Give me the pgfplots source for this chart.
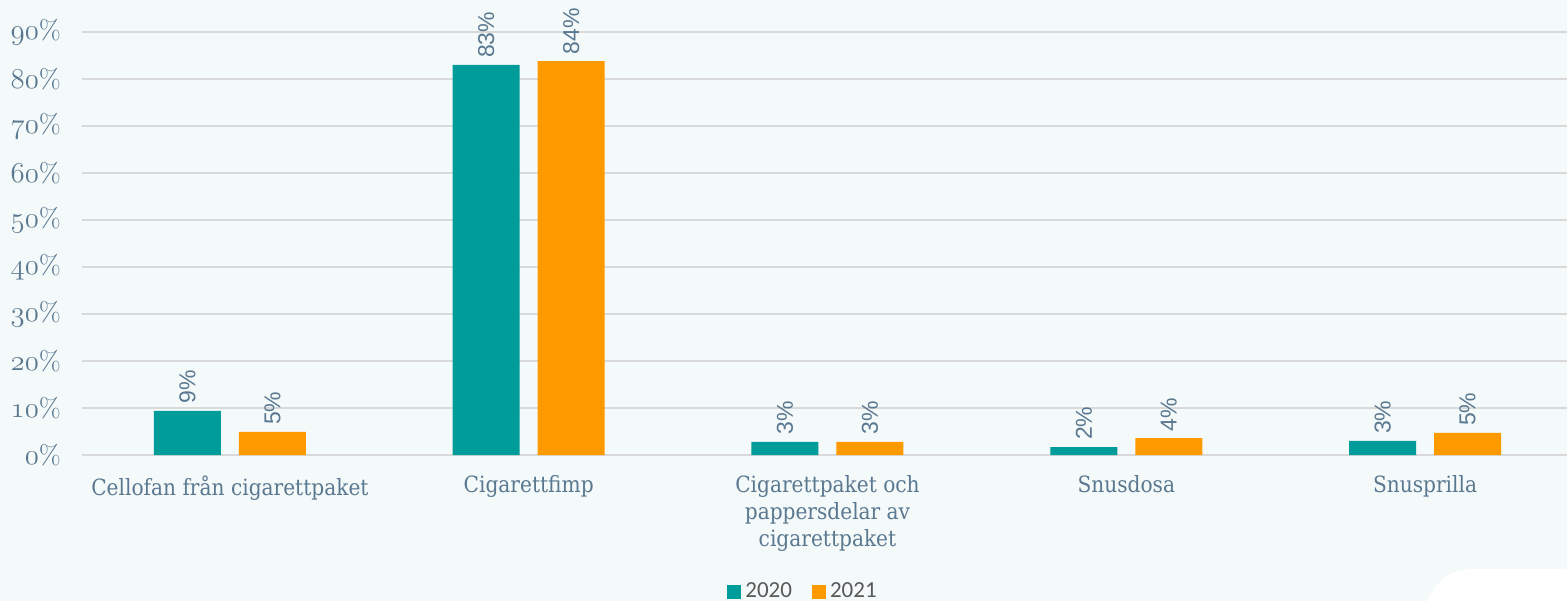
\documentclass[border=0pt]{standalone}
\usepackage{fontspec}
\usepackage{pgfplots}
\pgfplotsset{compat=1.18}

\newfontfamily\catfont{DejaVu Serif Condensed}
\newfontfamily\lblfont{Liberation Sans}
\newfontfamily\legfont{Carlito}

\definecolor{bg}{HTML}{F4F9FA}
\definecolor{teal20}{HTML}{009C99}
\definecolor{orange21}{HTML}{FF9900}
\definecolor{txt}{HTML}{5A7890}
\definecolor{gridc}{HTML}{D9D9D9}
\definecolor{legtxt}{HTML}{595959}

% old-style figures for the y ticks
\newcommand{\osn}[1]{$\mathnormal{#1}$}

\begin{document}
\begin{tikzpicture}
\fill[bg] (-41pt,-73pt) rectangle (742.5pt,227.5pt);
\useasboundingbox (-41pt,-73pt) rectangle (742.5pt,227.5pt);
\fill[white] (670pt,-80pt) -- (672.5pt,-73pt) .. controls (678pt,-62pt) and (684pt,-57pt) .. (696pt,-57pt)
  -- (760pt,-57pt) -- (760pt,-80pt) -- cycle;

\begin{axis}[
    scale only axis,
    width=742.5pt, height=211.5pt,
    ymin=0, ymax=90,
    xmin=-0.495, xmax=4.475,
    ybar=9pt, bar width=33.5pt,
    clip=false,
    axis line style={draw=none},
    tick style={draw=none},
    ymajorgrids=true,
    grid style={gridc, line width=1pt},
    ytick={0,10,...,90},
    yticklabels={\osn{0}\%,\osn{10}\%,\osn{20}\%,\osn{30}\%,\osn{40}\%,\osn{50}\%,\osn{60}\%,\osn{70}\%,\osn{80}\%,\osn{90}\%},
    yticklabel style={font=\fontsize{13.5}{16}\selectfont, text=txt, anchor=east, xshift=-7pt},
    xtick={0,1,2,3,4},
    xticklabels={Cellofan från cigarettpaket, Cigarettfimp, {Cigarettpaket och\\pappersdelar av\\cigarettpaket}, Snusdosa, Snusprilla},
    xticklabel style={font=\catfont\fontsize{11.2}{13.5}\selectfont, text=txt, align=center, anchor=north, yshift=-2.5pt},
    nodes near coords={\pgfmathprintnumber[assume math mode=true,fixed,precision=0]{\pgfplotspointmeta}\%},
    every node near coord/.append style={font=\lblfont\fontsize{11.5}{14}\selectfont, text=txt, rotate=90, anchor=west},
    legend style={at={(0.4862,-0.3239)}, anchor=center, draw=none, fill=none,
        legend columns=2, font=\legfont\fontsize{11.5}{13}\selectfont, text=legtxt,
        /tikz/every even column/.append style={column sep=8pt}},
    legend image code/.code={\fill[#1] (0pt,-3.5pt) rectangle (7pt,3.5pt);},
]
\addplot[fill=teal20, draw=none] coordinates {(0,9.4) (1,83.0) (2,2.8) (3,1.7) (4,3.0)};
\addplot[fill=orange21, draw=none] coordinates {(0,4.9) (1,83.8) (2,2.8) (3,3.6) (4,4.7)};
\legend{2020,2021}
\end{axis}
\end{tikzpicture}
\end{document}
